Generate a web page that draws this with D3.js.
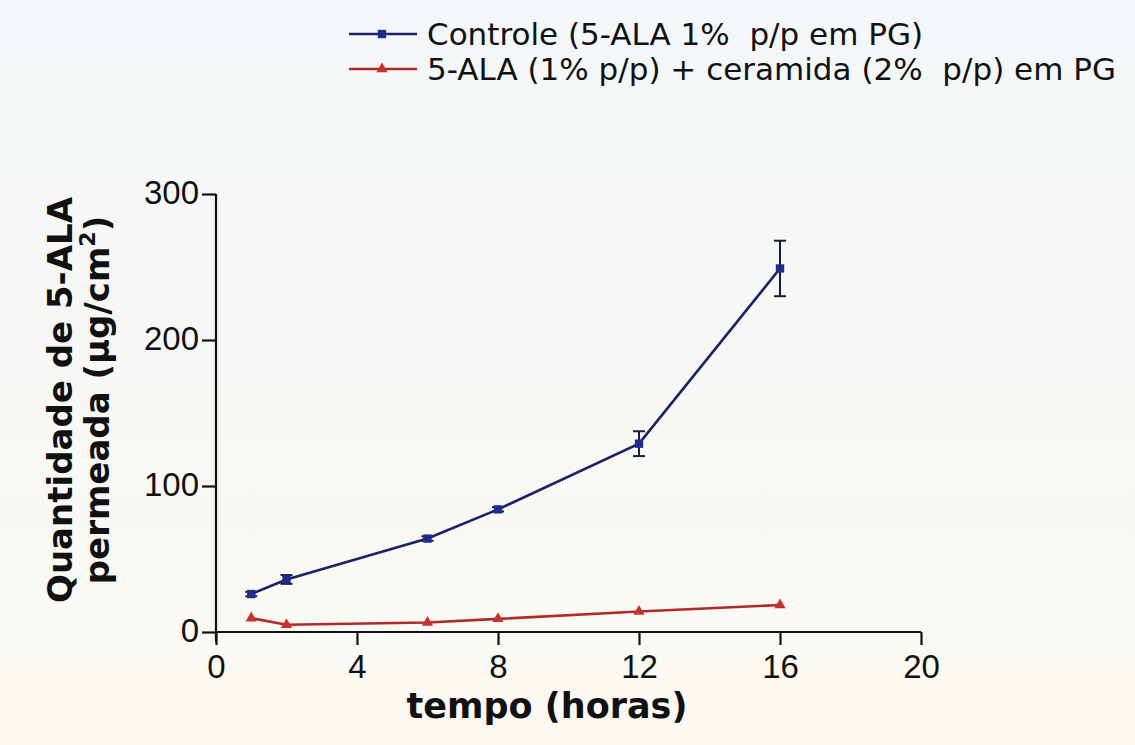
<!DOCTYPE html>
<html>
<head>
<meta charset="utf-8">
<script src="https://cdn.jsdelivr.net/npm/d3@7"></script>
<style>
  html, body { margin: 0; padding: 0; background: #f7f8f6; }
  svg { display: block; }
</style>
</head>
<body>
<svg id="chart" width="1135" height="745"></svg>
<script>
// Sampling times (h)
const tempo = [1, 2, 6, 8, 12, 16];
// Permeated 5-ALA (µg/cm²)
const controle = [26, 36, 64, 84, 129, 249];
const controleErro = [1.5, 3, 1.5, 1.5, 8.5, 19];
const ceramida = [9.5, 5, 6.5, 9, 14, 18.5];
const ceramidaErro = [1, 1, 1, 1, 1, 1];
const xTicks = [0, 4, 8, 12, 16, 20];
const yTicks = [0, 100, 200, 300];
const legendLabels = [
  "Controle (5-ALA 1%\u00a0\u00a0p/p em PG)",
  "5-ALA (1% p/p) + ceramida (2%\u00a0\u00a0p/p) em PG"
];

const svg = d3.select("#chart");
const W = 1135, H = 745;

// soft paper tone
const defs = svg.append("defs");
const grad = defs.append("linearGradient").attr("id", "paper")
  .attr("x1", 0).attr("y1", 0).attr("x2", 0).attr("y2", 1);
grad.append("stop").attr("offset", "0%").attr("stop-color", "#f3f7f9");
grad.append("stop").attr("offset", "100%").attr("stop-color", "#fbf9f1");
svg.append("rect").attr("width", W).attr("height", H).attr("fill", "url(#paper)");

const x = d3.scaleLinear().domain([0, 20]).range([216, 921]);
const y = d3.scaleLinear().domain([0, 300]).range([632, 194]);

const navy = "#1b2266";
const navyMark = "#1f2c8a";
const red = "#b02a2a";
const redMark = "#c8322e";

// axes
const xAxis = svg.append("g").attr("transform", `translate(0,${y(0)})`)
  .call(d3.axisBottom(x).tickValues(xTicks).tickSize(13).tickPadding(8).tickFormat(d3.format("d")));
const yAxis = svg.append("g").attr("transform", `translate(${x(0)},0)`)
  .call(d3.axisLeft(y).tickValues(yTicks).tickSize(14).tickPadding(3).tickFormat(d3.format("d")));
[xAxis, yAxis].forEach(g => {
  g.select(".domain").attr("stroke", "#111").attr("stroke-width", 2.2);
  g.selectAll(".tick line").attr("stroke", "#111").attr("stroke-width", 2.2);
  g.selectAll(".tick text").attr("fill", "#111")
    .style("font-family", "'Liberation Sans', Arial, sans-serif").style("font-size", "33px");
});
xAxis.select(".domain").attr("d", `M${x(0)},0H${x(20)}`);
yAxis.select(".domain").attr("d", `M0,${y(0) + 10}V${y(300)}`);
yAxis.selectAll(".tick text").attr("dy", "0.3em");
xAxis.selectAll(".tick text").attr("dy", "0.76em");

// series
const series = [
  { v: controle, e: controleErro, line: navy, mark: navyMark, shape: d3.symbolSquare, size: 70 },
  { v: ceramida, e: ceramidaErro, line: red, mark: redMark, shape: d3.symbolTriangle, size: 55 }
];
const line = d3.line().x(d => x(d[0])).y(d => y(d[1]));

series.forEach(s => {
  const pts = tempo.map((t, i) => [t, s.v[i], s.e[i]]);
  const g = svg.append("g");
  // error bars
  pts.forEach(p => {
    const top = y(p[1] + p[2]), bot = y(p[1] - p[2]);
    if (bot - top < 4) return;
    g.append("line").attr("x1", x(p[0])).attr("x2", x(p[0])).attr("y1", top).attr("y2", bot)
      .attr("stroke", "#1a1a3a").attr("stroke-width", 2);
    [top, bot].forEach(yy => g.append("line")
      .attr("x1", x(p[0]) - 6).attr("x2", x(p[0]) + 6).attr("y1", yy).attr("y2", yy)
      .attr("stroke", "#1a1a3a").attr("stroke-width", 2));
  });
  g.append("path").datum(pts).attr("d", line).attr("fill", "none")
    .attr("stroke", s.line).attr("stroke-width", 2.6);
  g.selectAll("path.m").data(pts).join("path").attr("class", "m")
    .attr("transform", d => `translate(${x(d[0])},${y(d[1])})`)
    .attr("d", d3.symbol(s.shape, s.size)).attr("fill", s.mark);
});

// legend
const legend = svg.append("g");
legendLabels.forEach((lab, i) => {
  const s = series[i];
  const ly = 34 + i * 35;
  legend.append("line").attr("x1", 349).attr("x2", 417).attr("y1", ly).attr("y2", ly)
    .attr("stroke", s.line).attr("stroke-width", 2.6);
  legend.append("path").attr("transform", `translate(382,${ly})`)
    .attr("d", d3.symbol(s.shape, s.size)).attr("fill", s.mark);
  legend.append("text").attr("x", 427).attr("y", ly + 11).text(lab)
    .attr("fill", "#111").style("font-family", "'DejaVu Sans', Verdana, sans-serif")
    .style("font-size", "31px");
});

// axis titles
svg.append("text").attr("x", 547).attr("y", 718).attr("text-anchor", "middle")
  .text("tempo (horas)").attr("fill", "#111")
  .style("font-family", "'DejaVu Sans', Verdana, sans-serif").style("font-weight", "bold")
  .style("font-size", "35px");

const yt = svg.append("text").attr("transform", "rotate(-90)")
  .attr("text-anchor", "middle").attr("fill", "#111")
  .style("font-family", "'DejaVu Sans', Verdana, sans-serif").style("font-weight", "bold")
  .style("font-size", "34px");
yt.append("tspan").attr("x", -400).attr("y", 72).text("Quantidade de 5-ALA");
const t2 = yt.append("tspan").attr("x", -400).attr("y", 109).text("permeada (\u00b5g/cm");
t2.append("tspan").attr("dy", -14).style("font-size", "22px").text("2");
t2.append("tspan").attr("dy", 14).text(")");
</script>
</body>
</html>
